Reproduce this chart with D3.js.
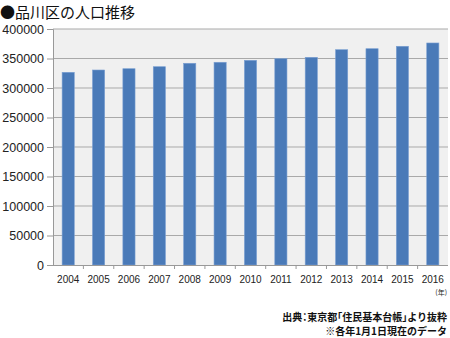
<!DOCTYPE html>
<html><head><meta charset="utf-8">
<script src="https://cdn.jsdelivr.net/npm/d3@7"></script>
<style>body{margin:0;background:#fff;} svg{display:block;} .note{font-feature-settings:"halt";}</style>
</head><body>
<svg id="chart" width="450" height="338"></svg>
<script>
const years = ["2004","2005","2006","2007","2008","2009","2010","2011","2012","2013","2014","2015","2016"];
const population = [326600,330500,332700,336100,341900,343600,346900,349700,352000,364900,366600,370700,376300];
const yTicks = [0,50000,100000,150000,200000,250000,300000,350000,400000];
const title = "●品川区の人口推移";
const unitLabel = "(年)";
const notes = ["出典：東京都「住民基本台帳」より抜粋","※各年1月1日現在のデータ"];

(function(){
const svg = d3.select("#chart");
const mLeft = 53, mRight = 448, mTop = 29, mBottom = 265;
const x = d3.scaleBand().domain(years).range([mLeft, mRight]).paddingInner(0.6).paddingOuter(0.3);
const y = d3.scaleLinear().domain([0, 400000]).range([mBottom, mTop]);
const font = "'Liberation Sans', Arial, sans-serif";
const jfont = "'Noto Sans CJK JP', sans-serif";

svg.append("text").attr("x", 0).attr("y", 17.5).attr("font-family", jfont)
  .attr("font-size", 15).attr("fill", "#111").text(title);

svg.append("rect").attr("x", mLeft).attr("y", mTop).attr("width", mRight-mLeft).attr("height", mBottom-mTop).attr("fill", "#f0f0f0");

svg.append("g").selectAll("line").data(yTicks.filter(d=>d>0)).join("line")
  .attr("x1", mLeft).attr("x2", mRight).attr("y1", d=>y(d)).attr("y2", d=>y(d))
  .attr("stroke", "#a9a9a9").attr("stroke-width", 1);

svg.append("g").selectAll("rect").data(population).join("rect")
  .attr("x", (d,i)=>x(years[i])).attr("width", x.bandwidth())
  .attr("y", d=>y(d)).attr("height", d=>mBottom-y(d))
  .attr("fill", "#4a7ab8").attr("stroke", "#7a9fd2").attr("stroke-width", 0.6);

const yAxis = svg.append("g").attr("transform", `translate(${mLeft},0)`)
  .call(d3.axisLeft(y).tickValues(yTicks).tickFormat(d=>String(d)).tickSize(6).tickPadding(3));
yAxis.select(".domain").attr("stroke", "#999");
yAxis.selectAll(".tick line").attr("stroke", "#999");
yAxis.selectAll("text").attr("font-family", font).attr("font-size", 12.5).attr("fill", "#222");

const xAxis = svg.append("g").attr("transform", `translate(0,${mBottom})`)
  .call(d3.axisBottom(x).tickSize(0).tickPadding(11));
xAxis.select(".domain").attr("stroke", "#999").attr("d", `M${mLeft},0.5H${mRight}`);
xAxis.selectAll("text").attr("font-family", font).attr("font-size", 10).attr("fill", "#222");

const step = x.step();
const boundaries = d3.range(1, years.length).map(i => x(years[i]) - step*x.paddingInner()/2);
svg.append("g").selectAll("line").data(boundaries).join("line")
  .attr("x1", d=>d).attr("x2", d=>d).attr("y1", mBottom).attr("y2", mBottom+4)
  .attr("stroke", "#999");

svg.append("text").attr("x", 447).attr("y", 295).attr("text-anchor", "end")
  .attr("font-family", jfont).attr("font-size", 7).attr("fill", "#222").text(unitLabel);

svg.selectAll(".note").data(notes).join("text").attr("class","note")
  .attr("x", 447).attr("y", (d,i)=>321 + i*14).attr("text-anchor", "end")
  .attr("font-family", jfont).attr("font-size", 10).attr("font-weight", "bold").attr("fill", "#111").text(d=>d);
})();
</script>
</body></html>
